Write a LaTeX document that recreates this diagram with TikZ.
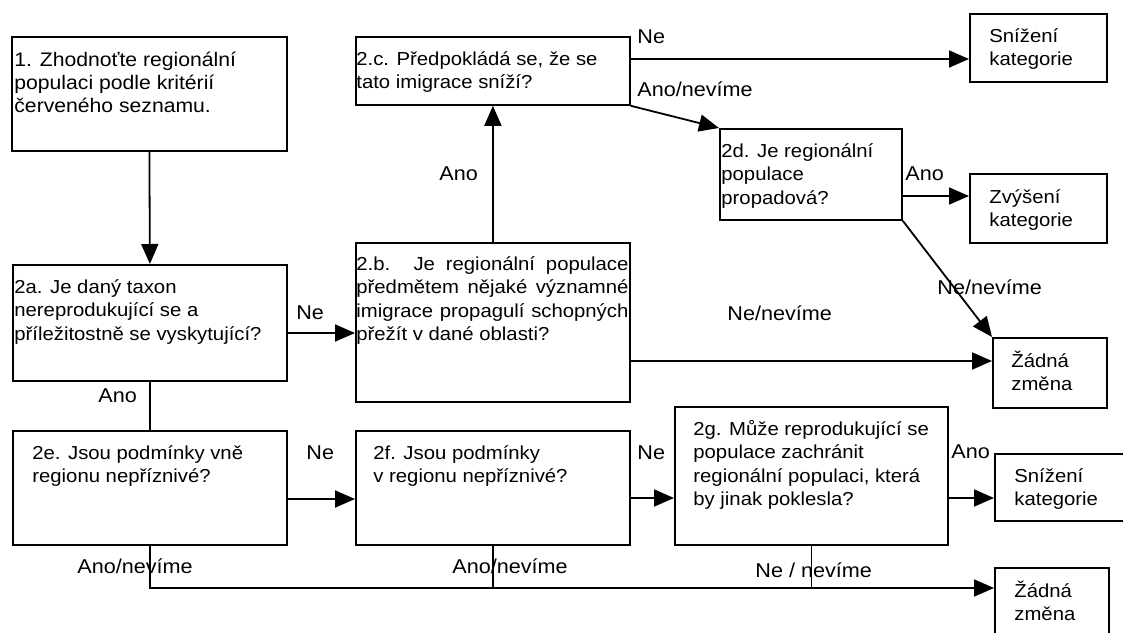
\documentclass[tikz,border=0pt]{standalone}
\usepackage{fontspec}
\setmainfont{Liberation Sans}[FakeStretch=1.08]
\usetikzlibrary{arrows.meta}
\newcommand\boxfont{\fontsize{9.4pt}{11.8pt}\selectfont}
\newcommand\lblfont{\fontsize{10pt}{12pt}\selectfont}
\newcommand\tbx[1]{\parbox[t]{6cm}{\raggedright #1}}
\tikzset{
  box/.style={draw, line width=0.9pt, rectangle, inner sep=0pt, anchor=north west},
  txt/.style={inner sep=0pt, anchor=base west, font=\boxfont},
  lbl/.style={inner sep=0pt, anchor=base west, font=\lblfont},
  arr/.style={-{Triangle[length=10pt,width=8.5pt]}, line width=0.9pt},
  ln/.style={line width=0.9pt}
}
\begin{document}
\begin{tikzpicture}[x=0.5pt,y=-0.5pt]
\useasboundingbox (0,0) rectangle (1123,632);
\clip (0,0) rectangle (1123,632);
\fill[white] (0,0) rectangle (1123,632);
% boxes
\node[box, minimum width=137.5pt, minimum height=57pt] (b1) at (11,36) {};
\node[box, minimum width=137pt, minimum height=58pt] (b2a) at (12,264) {};
\node[box, minimum width=137pt, minimum height=79.5pt] (b2b) at (355,242) {};
\node[box, minimum width=137pt, minimum height=34pt] (b2c) at (355,36) {};
\node[box, minimum width=91pt, minimum height=45.5pt] (b2d) at (719,128) {};
\node[box, minimum width=68.5pt, minimum height=34pt] (s1) at (969,13) {};
\node[box, minimum width=68.5pt, minimum height=34.5pt] (zv) at (969,173) {};
\node[box, minimum width=57pt, minimum height=35pt] (z1) at (992,337) {};
\node[box, minimum width=137pt, minimum height=57pt] (b2e) at (12,430) {};
\node[box, minimum width=137pt, minimum height=57pt] (b2f) at (355,430) {};
\node[box, minimum width=136.5pt, minimum height=69pt] (b2g) at (674,406) {};
\node[box, minimum width=70pt, minimum height=33.5pt] (s2) at (994,453) {};
\node[box, minimum width=57pt, minimum height=40pt] (z2) at (994,567) {};
% box texts
\node[txt, font=\fontsize{9.8pt}{11.7pt}\selectfont] (t1) at (14,66) {\tbx{1. Zhodnoťte regionální\\populaci podle kritérií\\červeného seznamu.}};
\node[txt] (t2a) at (14,293) {\tbx{2a. Je daný taxon\\nereprodukující se a\\příležitostně se vyskytující?}};
\node[txt] (t2b) at (356,270) {\parbox[t]{136pt}{2.b. Je regionální populace\linebreak předmětem nějaké významné\linebreak imigrace propagulí schopných\linebreak přežít v dané oblasti?}};
\node[txt] (t2c) at (356,65) {\tbx{2.c. Předpokládá se, že se\\tato imigrace sníží?}};
\node[txt] (t2d) at (721,157) {\tbx{2d. Je regionální\\populace\\propadová?}};
\node[txt] (ts1) at (989,42) {\tbx{Snížení\\kategorie}};
\node[txt] (tzv) at (989,203) {\tbx{Zvýšení\\kategorie}};
\node[txt] (tz1) at (1011,367) {\tbx{Žádná\\změna}};
\node[txt] (t2e) at (32,459) {\tbx{2e. Jsou podmínky vně\\regionu nepříznivé?}};
\node[txt] (t2f) at (373,459) {\tbx{2f. Jsou podmínky\\v regionu nepříznivé?}};
\node[txt] (t2g) at (693,435) {\tbx{2g. Může reprodukující se\\populace zachránit\\regionální populaci, která\\by jinak poklesla?}};
\node[txt] (ts2) at (1014,482) {\tbx{Snížení\\kategorie}};
\node[txt] (tz2) at (1014,597) {\tbx{Žádná\\změna}};
% connectors
\draw[arr] (b1.south) -- (b2a.north);
\draw[arr] (b2a.east |- 0,333) -- (b2b.west |- 0,333);
\draw[arr] (b2b.north) -- (b2c.south);
\draw[arr] (b2c.east |- 0,59) -- (s1.west |- 0,59);
\draw[arr] (b2c.south east) -- (b2d.north west);
\draw[arr] (b2d.east |- 0,196) -- (zv.west |- 0,196);
\draw[arr] (b2d.south east) -- (z1.north west);
\draw[arr] (b2b.east |- 0,361) -- (z1.west |- 0,361);
\draw[ln] (b2a.south) -- (b2e.north);
\draw[arr] (b2e.east |- 0,499) -- (b2f.west |- 0,499);
\draw[arr] (b2f.east |- 0,498) -- (b2g.west |- 0,498);
\draw[arr] (b2g.east |- 0,498) -- (s2.west |- 0,498);
\coordinate (j1) at (b2e.south |- 0,588);
\draw[arr] (b2e.south) -- (j1) -- (z2.west |- 0,588);
\draw[ln] (b2f.south) -- (b2f.south |- j1);
\draw[ln] (b2g.south) -- (b2g.south |- j1);
% labels
\node[lbl] (l1) at (637,43) {Ne};
\node[lbl] (l2) at (637,96) {Ano/nevíme};
\node[lbl] (l3) at (439,180) {Ano};
\node[lbl] (l4) at (905,180) {Ano};
\node[lbl] (l5) at (937,294) {Ne/nevíme};
\node[lbl] (l6) at (727,320) {Ne/nevíme};
\node[lbl] (l7) at (296,319) {Ne};
\node[lbl] (l8) at (98,402) {Ano};
\node[lbl] (l9) at (306,459) {Ne};
\node[lbl] (l10) at (637,459) {Ne};
\node[lbl] (l11) at (951,458) {Ano};
\node[lbl] (l12) at (77,573) {Ano/nevíme};
\node[lbl] (l13) at (452,573) {Ano/nevíme};
\node[lbl] (l14) at (755,577) {Ne / nevíme};
\end{tikzpicture}
\end{document}
